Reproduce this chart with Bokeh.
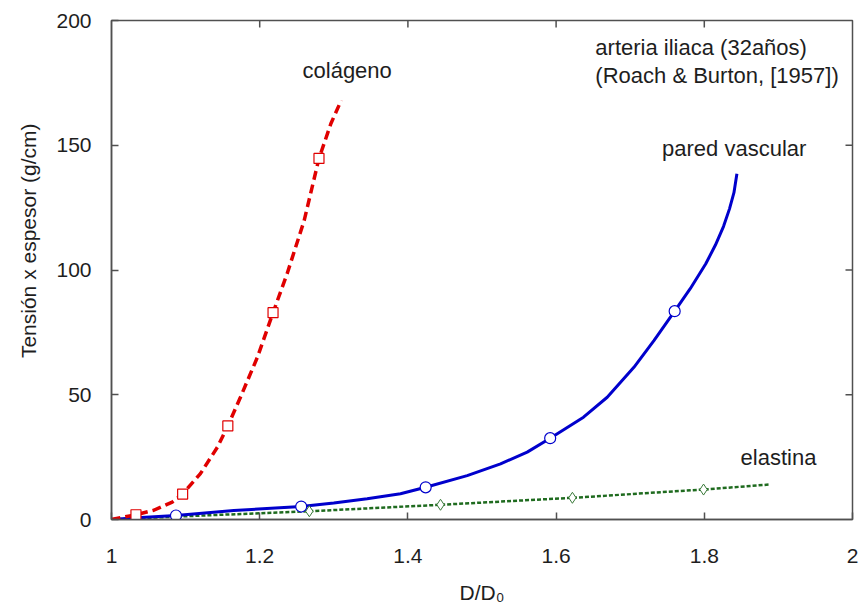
from bokeh.plotting import figure
from bokeh.models import Range1d, FixedTicker, Label, PrintfTickFormatter, Title
from bokeh.embed import file_html
from bokeh.resources import INLINE

# ---- data ----
# colágeno (dashed red curve + square markers)
col_x = [1.0, 1.033, 1.057, 1.082, 1.096, 1.120, 1.143, 1.157, 1.174, 1.197, 1.218, 1.237, 1.260, 1.280, 1.296, 1.310]
col_y = [0.0, 1.9, 3.7, 7.0, 10.2, 18.4, 29.0, 37.5, 49.0, 65.1, 82.9, 98.5, 119.8, 144.7, 158.6, 168.0]
col_mx = [1.033, 1.096, 1.157, 1.218, 1.280]
col_my = [1.9, 10.2, 37.5, 82.9, 144.7]

# pared vascular (solid blue curve + circle markers)
par_x = [1.0, 1.04, 1.087, 1.165, 1.256, 1.30, 1.345, 1.390, 1.424, 1.480, 1.525, 1.561, 1.592,
         1.637, 1.669, 1.705, 1.732, 1.760, 1.781, 1.802, 1.815, 1.826, 1.834, 1.840, 1.844]
par_y = [0.0, 0.8, 1.6, 3.6, 5.2, 6.6, 8.3, 10.3, 12.9, 17.6, 22.3, 27.0, 32.6,
         41.0, 49.0, 61.0, 71.7, 83.5, 92.5, 102.5, 110.0, 117.5, 124.5, 131.0, 138.6]
par_mx = [1.087, 1.256, 1.424, 1.592, 1.760]
par_my = [1.6, 5.2, 12.9, 32.6, 83.5]

# elastina (dotted dark-green curve + diamond markers)
ela_x = [1.0, 1.09, 1.267, 1.444, 1.622, 1.799, 1.887]
ela_y = [0.0, 1.2, 3.3, 5.9, 8.7, 12.0, 14.0]
ela_mx = [1.09, 1.267, 1.444, 1.622, 1.799]
ela_my = [1.2, 3.3, 5.9, 8.7, 12.0]

x_ticks = [1, 1.2, 1.4, 1.6, 1.8, 2]
y_ticks = [0, 50, 100, 150, 200]

FONT = "Liberation Sans"
TXT = "#1e1e1e"
FRAME = "#505050"
X0, X1, Y0, Y1 = 1, 2, 0, 200

p = figure(width=861, height=614, output_backend="svg", toolbar_location=None,
           x_range=Range1d(X0, X1), y_range=Range1d(Y0, Y1),
           min_border_left=111, min_border_right=9, min_border_top=20, min_border_bottom=95,
           background_fill_color="white", border_fill_color="white")
p.grid.visible = False
p.outline_line_color = FRAME
p.outline_line_width = 1.5

for ax, ticks, standoff in ((p.xaxis[0], x_ticks, 29), (p.yaxis[0], y_ticks, 20)):
    ax.ticker = FixedTicker(ticks=ticks)
    ax.formatter = PrintfTickFormatter(format="%g")
    ax.axis_line_color = FRAME
    ax.axis_line_width = 1.5
    ax.major_tick_line_color = FRAME
    ax.major_tick_line_width = 1.5
    ax.major_tick_in = 7
    ax.major_tick_out = 0
    ax.minor_tick_line_color = None
    ax.major_label_text_font = FONT
    ax.major_label_text_color = TXT
    ax.major_label_text_font_size = "21px"
    ax.major_label_standoff = standoff

# x axis title
p.xaxis[0].axis_label = "D/D\u2080"
p.xaxis[0].axis_label_text_font = FONT
p.xaxis[0].axis_label_text_font_size = "21px"
p.xaxis[0].axis_label_text_font_style = "normal"
p.xaxis[0].axis_label_text_color = TXT
p.xaxis[0].axis_label_standoff = 15

# y axis title as a side title
p.add_layout(Title(text="Tensión x espesor (g/cm)", align="right", offset=103,
                   text_font=FONT, text_font_size="21px", text_font_style="normal",
                   text_color=TXT, standoff=28), "left")

# mirrored inward ticks on the top and right edges (from the tick arrays)
tick_len_y = 7 * (Y1 - Y0) / 499.0
tick_len_x = 7 * (X1 - X0) / 741.0
top_t = [t for t in x_ticks if X0 < t < X1]
right_t = [t for t in y_ticks if Y0 < t < Y1]
p.segment(x0=top_t, y0=[Y1] * len(top_t), x1=top_t, y1=[Y1 - tick_len_y] * len(top_t),
          line_color=FRAME, line_width=1.5)
p.segment(x0=[X1] * len(right_t), y0=right_t, x1=[X1 - tick_len_x] * len(right_t), y1=right_t,
          line_color=FRAME, line_width=1.5)

# curves
p.line(ela_x, ela_y, line_color="#1f6b1f", line_width=2.5, line_dash="4 2")
p.line(par_x, par_y, line_color="#0000cc", line_width=3)
p.line(col_x, col_y, line_color="#e00000", line_width=3.5, line_dash="9 5")

# markers
p.scatter(ela_mx, ela_my, marker="diamond", size=11, fill_color="white",
          line_color="#3a7a3a", line_width=1)
p.scatter(par_mx, par_my, marker="circle", size=11, fill_color="white",
          line_color="#0000cc", line_width=1.2)
p.scatter(col_mx, col_my, marker="square", size=10, fill_color="white",
          line_color="#e00000", line_width=1.2)

def add_text(x, y, t):
    p.add_layout(Label(x=x, y=y, text=t, text_font=FONT, text_font_size="22px",
                       text_color=TXT, text_align="left", text_baseline="middle"))

add_text(1.2578, 180.0, "colágeno")
add_text(1.653, 189.2, "arteria iliaca (32años)")
add_text(1.653, 178.0, "(Roach & Burton, [1957])")
add_text(1.743, 148.8, "pared vascular")
add_text(1.849, 24.8, "elastina")

open("out.html", "w").write(file_html(p, INLINE))
